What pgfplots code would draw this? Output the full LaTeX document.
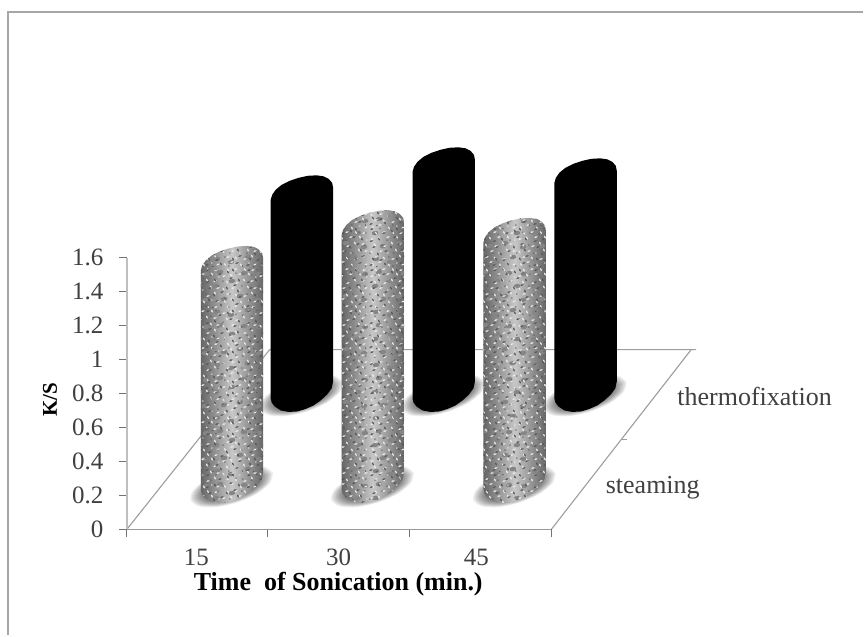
\documentclass[border=0pt]{standalone}
\usepackage{fontspec}
\setmainfont{Liberation Serif}
\usepackage{pgfplots}
\usepackage{pgfplotstable}
\pgfplotsset{compat=1.18}
\usetikzlibrary{patterns}

% granite flecks
\newcommand{\fa}[2]{\pgfpathellipse{\pgfqpoint{#1pt}{#2pt}}{\pgfqpoint{1.7pt}{.8pt}}{\pgfqpoint{-.4pt}{.7pt}}}
\newcommand{\fb}[2]{\pgfpathellipse{\pgfqpoint{#1pt}{#2pt}}{\pgfqpoint{.9pt}{-1.5pt}}{\pgfqpoint{.7pt}{.4pt}}}
\newcommand{\fc}[2]{\pgfpathcircle{\pgfqpoint{#1pt}{#2pt}}{.75pt}}
\newcommand{\fd}[2]{\pgfpathellipse{\pgfqpoint{#1pt}{#2pt}}{\pgfqpoint{3.2pt}{1pt}}{\pgfqpoint{-1pt}{2pt}}}
\pgfdeclarepatternformonly{flecksdark}{\pgfpointorigin}{\pgfqpoint{41pt}{41pt}}{\pgfqpoint{41pt}{41pt}}{
  \fa{3}{3}\fc{9}{1.5}\fb{17}{4}\fc{25}{2}\fa{33}{5}\fc{38.5}{2}
  \fb{5}{9}\fa{13}{8}\fc{21}{11}\fb{29}{9}\fa{36}{12}\fc{2}{15}
  \fb{10}{14}\fa{18}{17}\fc{26}{15}\fb{34}{18}\fa{6}{21}\fc{14}{23}
  \fb{23}{21}\fa{31}{24}\fc{38}{23}\fa{3.5}{27}\fb{11}{29}\fc{19}{28}
  \fa{27}{31}\fb{35}{29}\fc{7}{34}\fa{16}{35}\fb{24}{37}\fc{32}{36}
  \fc{39}{35}\fa{4}{39}\fc{12}{39.5}\fb{29}{39}
  \pgfusepath{fill}
}
\pgfdeclarepatternformonly{fleckslight}{\pgfpointorigin}{\pgfqpoint{37pt}{37pt}}{\pgfqpoint{37pt}{37pt}}{
  \fb{4}{2.5}\fa{11}{5}\fb{20}{2}\fc{28}{4}\fa{34}{2.5}\fa{7}{10}
  \fb{15}{9}\fa{24}{8}\fb{31}{11}\fb{2.5}{15}\fa{12}{16}\fc{19}{14}
  \fb{27}{17}\fa{34}{16}\fb{6}{22}\fa{16}{21}\fb{23}{24}\fa{31}{23}
  \fa{3}{28}\fb{10}{29}\fa{19}{30}\fb{28}{30}\fc{35}{27}\fb{7}{34}
  \fa{15}{35}\fb{24}{34.5}\fa{32}{34}
  \pgfusepath{fill}
}
% larger mottling under the flecks
\pgfdeclarepatternformonly{clumps}{\pgfpointorigin}{\pgfqpoint{53pt}{53pt}}{\pgfqpoint{53pt}{53pt}}{
  \fd{6}{7}\fd{20}{4}\fd{37}{9}\fd{47}{19}\fd{13}{20}\fd{29}{23}
  \fd{5}{33}\fd{41}{33}\fd{21}{38}\fd{33}{46}\fd{9}{47}\fd{48}{45}
  \pgfusepath{fill}
}

% outline of a cylinder: dx,up in px from its left corner, t=1 on the top rim
\pgfplotstableread{
dx up t
0 0 0
0 0 1
1.5 5 1
5 10 1
11 15 1
19 19 1
28 22 1
37 24 1
46 24.5 1
53 23.5 1
58 21 1
61.5 17 1
62.5 12 1
62.5 17 0
61 10 0
56.5 4 0
50 -2 0
43 -7 0
35 -10.5 0
27 -13 0
18 -13.5 0
10 -12 0
4 -8 0
1 -4 0
}\cylshape

% floor shadow, tilted ellipse around its own centre
\pgfplotstableread{
dx up
39 12.7
31.3 18.6
15.2 19.5
-4.9 15.2
-23.8 6.9
-36.3 -3.4
-39 -12.7
-31.3 -18.6
-15.2 -19.5
4.9 -15.2
23.8 -6.9
36.3 3.4
39 12.7
}\shadowshape

\definecolor{axisgray}{gray}{0.62}
\definecolor{txt}{gray}{0.25}

\newcommand{\shadowlayer}[3]{%
  \addplot[fill=black,fill opacity=.07,draw=none,smooth]
    table[x expr={#1+31+#3*\thisrow{dx}},y expr={#2+(3+#3*\thisrow{up})/170}] {\shadowshape};
}
\newcommand{\cylshadow}[2]{%
  \shadowlayer{#1}{#2}{1.06}\shadowlayer{#1}{#2}{1.02}\shadowlayer{#1}{#2}{.98}%
  \shadowlayer{#1}{#2}{.94}\shadowlayer{#1}{#2}{.90}\shadowlayer{#1}{#2}{.86}%
  \shadowlayer{#1}{#2}{.82}\shadowlayer{#1}{#2}{.78}\shadowlayer{#1}{#2}{.74}%
}
% #1 left edge px, #2 floor level, #3 K/S height
\newcommand{\cylgranite}[3]{%
  \cylshadow{#1}{#2}
  \addplot[left color=black!60,right color=black!60,middle color=black!22,draw=none]
    table[x expr={#1+\thisrow{dx}},y expr={#2+#3*\thisrow{t}+\thisrow{up}/170}] {\cylshape} --cycle;
  \addplot[pattern=clumps,pattern color=black!48,draw=none]
    table[x expr={#1+\thisrow{dx}},y expr={#2+#3*\thisrow{t}+\thisrow{up}/170}] {\cylshape} --cycle;
  \addplot[pattern=fleckslight,pattern color=black!8,draw=none]
    table[x expr={#1+\thisrow{dx}},y expr={#2+#3*\thisrow{t}+\thisrow{up}/170}] {\cylshape} --cycle;
  \addplot[pattern=flecksdark,pattern color=black!66,draw=none]
    table[x expr={#1+\thisrow{dx}},y expr={#2+#3*\thisrow{t}+\thisrow{up}/170}] {\cylshape} --cycle;
}
\newcommand{\cylblack}[3]{%
  \cylshadow{#1}{#2}
  \addplot[fill=black,draw=none]
    table[x expr={#1+\thisrow{dx}},y expr={#2+#3*\thisrow{t}+\thisrow{up}/170}] {\cylshape} --cycle;
}

\begin{document}
\begin{tikzpicture}
\begin{axis}[
  x=1pt,y=170pt,
  xmin=127,xmax=552,ymin=0,ymax=1.6,
  clip=false,
  axis on top,
  axis x line*=bottom,axis y line*=left,
  x axis line style={black!40,line width=1.3pt},
  y axis line style={black!25,line width=2.2pt},
  tick style={black!55,line width=1pt},
  tick align=outside,
  major tick length=8pt,
  ytick={0,0.2,0.4,0.6,0.8,1,1.2,1.4,1.6},
  xtick={127,268,410,552},
  xticklabels={},
  extra x ticks={196.5,339,477},
  extra x tick labels={15,30,45},
  extra x tick style={major tick length=0pt,
    xticklabel style={yshift=-16pt}},
  /pgf/number format/assume math mode=true,
  ticklabel style={font=\fontsize{25}{27}\selectfont,text=txt},
  yticklabel style={xshift=-12pt},
  xlabel={Time\ \ of Sonication (min.)},
  ylabel={K/S},
  xlabel style={at={(axis description cs:0.498,-0.203)},anchor=center,
    font=\bfseries\fontsize{26}{28}\selectfont,text=black},
  ylabel style={at={(axis description cs:-0.181,0.478)},anchor=center,
    font=\bfseries\fontsize{21}{24}\selectfont,text=black},
]
% page background and picture frame
\addplot[fill=white,draw=none] coordinates {(0,-0.6235)(864,-0.6235)(864,3.1176)(0,3.1176)} --cycle;
\addplot[color=gray!70,line width=2pt] coordinates {(8,-0.6235)(8,3.047)(864,3.047)};

% floor
\addplot[axisgray,line width=1.1pt] coordinates {(127,0)(270,1.0588)(697,1.0588)};
\addplot[axisgray,line width=1.1pt] coordinates {(552,0)(692,1.0588)};
\addplot[axisgray,line width=1.1pt] coordinates {(622,0.5294)(628,0.5294)};

% thermofixation row
\cylblack{271}{0.771}{1.17}
\cylblack{413}{0.771}{1.335}
\cylblack{555}{0.771}{1.27}
% steaming row
\cylgranite{201}{0.235}{1.29}
\cylgranite{342}{0.235}{1.50}
\cylgranite{484}{0.235}{1.455}

\node[font=\fontsize{26}{28}\selectfont,text=txt,anchor=center] at (axis cs:755.5,0.782) {thermofixation};
\node[font=\fontsize{26}{28}\selectfont,text=txt,anchor=center] at (axis cs:653.5,0.247) {steaming};
\end{axis}
\end{tikzpicture}
\end{document}
